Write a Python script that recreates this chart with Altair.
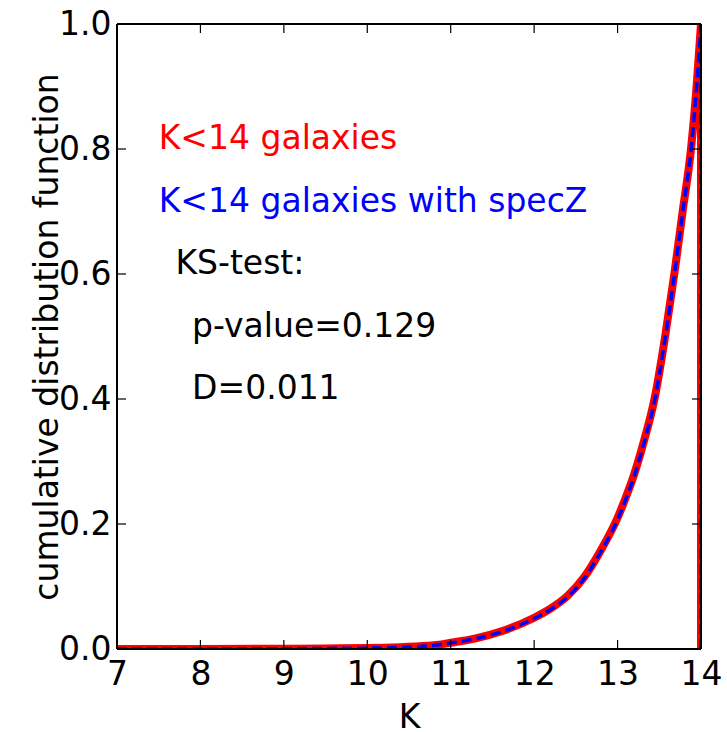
import altair as alt
import pandas as pd

# K-band magnitude grid and cumulative fractions
k_all = [7.0, 8.0, 9.0, 9.5, 10.0, 10.4, 10.8, 11.0, 11.3, 11.6, 12.0, 12.2, 12.4,
         12.6, 12.8, 13.0, 13.1, 13.2, 13.3, 13.45, 13.57, 13.68, 13.78, 13.88,
         13.95, 14.0]
cdf_all = [0.0, 0.0, 0.0005, 0.001, 0.0015, 0.003, 0.006, 0.010, 0.017, 0.028,
           0.050, 0.065, 0.085, 0.115, 0.158, 0.210, 0.243, 0.280, 0.325, 0.405,
           0.500, 0.600, 0.700, 0.800, 0.905, 1.0]
cdf_specz = [0.0, 0.0, 0.0004, 0.0009, 0.0014, 0.0028, 0.0058, 0.0098, 0.0165,
             0.0272, 0.0488, 0.0635, 0.0832, 0.1128, 0.1556, 0.2072, 0.2400,
             0.2770, 0.3220, 0.4020, 0.4972, 0.5976, 0.6980, 0.7988, 0.9040,
             1.0]

x_ticks = [7, 8, 9, 10, 11, 12, 13, 14]
y_ticks = [0.0, 0.2, 0.4, 0.6, 0.8, 1.0]

labels = ["K<14 galaxies", "K<14 galaxies with specZ", "KS-test:",
          "p-value=0.129", "D=0.011"]
label_x = [7.5, 7.5, 7.7, 7.9, 7.9]
label_y = [0.8, 0.7, 0.6, 0.5, 0.4]
label_color = ["#ff0000", "#0000ff", "#000000", "#000000", "#000000"]

W, H = 584, 625
TICK = 9
FONT = "DejaVu Sans"
FS = 33

red_df = pd.DataFrame({"K": k_all, "cdf": cdf_all})
blue_df = pd.DataFrame({"K": k_all, "cdf": cdf_specz})
# closing vertical edge of the cumulative step histogram (last bin edge back to 0)
drop_df = pd.DataFrame({"K": [k_all[-1]], "top": [cdf_all[-1]], "bot": [0.0]})
txt_df = pd.DataFrame({"t": labels, "x": label_x, "y": label_y, "c": label_color})
xt_df = pd.DataFrame({"v": x_ticks})
yt_df = pd.DataFrame({"v": y_ticks})

xscale = alt.Scale(domain=[7, 14], nice=False, zero=False)
yscale = alt.Scale(domain=[0, 1], nice=False, zero=False)

xaxis = alt.Axis(values=x_ticks, ticks=False, domain=False, grid=False, format="d",
                 labelFontSize=FS, labelFont=FONT, labelColor="black",
                 labelBaseline="alphabetic", labelPadding=35, labelFlush=False,
                 title="K", titleFontSize=FS, titleFont=FONT, titleFontWeight="normal",
                 titleColor="black", titleBaseline="alphabetic", titleY=78,
                 labelOverlap=False)
yaxis = alt.Axis(values=y_ticks, ticks=False, domain=False, grid=False, format=".1f",
                 labelFontSize=FS, labelFont=FONT, labelColor="black",
                 labelPadding=6, labelFlush=False, labelBaseline="middle",
                 title="cumulative distribution function", titleFontSize=FS,
                 titleFont=FONT, titleFontWeight="normal", titleColor="black",
                 titleBaseline="alphabetic", titleX=-60, labelOverlap=False)

RW, BW = 8, 3.5
red = alt.Chart(red_df).mark_line(color="#ff0000", strokeWidth=RW, clip=True,
                                  interpolate="monotone").encode(
    x=alt.X("K:Q", scale=xscale, axis=xaxis),
    y=alt.Y("cdf:Q", scale=yscale, axis=yaxis),
)
red_drop = alt.Chart(drop_df).mark_rule(color="#ff0000", strokeWidth=RW, clip=True).encode(
    x=alt.X("K:Q", scale=xscale), y=alt.Y("top:Q", scale=yscale), y2="bot:Q")
blue = alt.Chart(blue_df).mark_line(color="#0000ff", strokeWidth=BW,
                                     strokeDash=[10, 5], clip=True,
                                     interpolate="monotone").encode(
    x=alt.X("K:Q", scale=xscale),
    y=alt.Y("cdf:Q", scale=yscale),
)
blue_drop = alt.Chart(drop_df).mark_rule(color="#0000ff", strokeWidth=BW,
                                         strokeDash=[10, 5], clip=True).encode(
    x=alt.X("K:Q", scale=xscale), y=alt.Y("top:Q", scale=yscale), y2="bot:Q")

text = alt.Chart(txt_df).mark_text(align="left", baseline="alphabetic",
                                   fontSize=FS, font=FONT).encode(
    x=alt.X("x:Q", scale=xscale),
    y=alt.Y("y:Q", scale=yscale),
    text="t:N",
    color=alt.Color("c:N", scale=None),
)

tick_style = dict(color="black", strokeWidth=1.2)
xt_bottom = alt.Chart(xt_df).mark_rule(**tick_style).encode(
    x=alt.X("v:Q", scale=xscale), y=alt.value(H), y2=alt.value(H - TICK))
xt_top = alt.Chart(xt_df).mark_rule(**tick_style).encode(
    x=alt.X("v:Q", scale=xscale), y=alt.value(0), y2=alt.value(TICK))
yt_left = alt.Chart(yt_df).mark_rule(**tick_style).encode(
    y=alt.Y("v:Q", scale=yscale), x=alt.value(0), x2=alt.value(TICK))
yt_right = alt.Chart(yt_df).mark_rule(**tick_style).encode(
    y=alt.Y("v:Q", scale=yscale), x=alt.value(W), x2=alt.value(W - TICK))

bstyle = dict(color="black", strokeWidth=2)
b_left = alt.Chart(xt_df).mark_rule(**bstyle).encode(
    x=alt.value(0), y=alt.value(0), y2=alt.value(H))
b_right = alt.Chart(xt_df).mark_rule(**bstyle).encode(
    x=alt.value(W), y=alt.value(0), y2=alt.value(H))
b_top = alt.Chart(xt_df).mark_rule(**bstyle).encode(
    y=alt.value(0), x=alt.value(0), x2=alt.value(W))
b_bottom = alt.Chart(xt_df).mark_rule(**bstyle).encode(
    y=alt.value(H), x=alt.value(0), x2=alt.value(W))

chart = alt.layer(
    red, red_drop, blue, blue_drop, text, xt_bottom, xt_top, yt_left, yt_right,
    b_left, b_right, b_top, b_bottom,
).properties(
    width=W, height=H,
    autosize=alt.AutoSizeParams(type="none"),
    padding={"left": 117, "top": 24, "right": 26, "bottom": 83},
    background="white",
).configure_view(stroke=None)

chart.save("out.html", embed_options={"renderer": "svg", "actions": False})
